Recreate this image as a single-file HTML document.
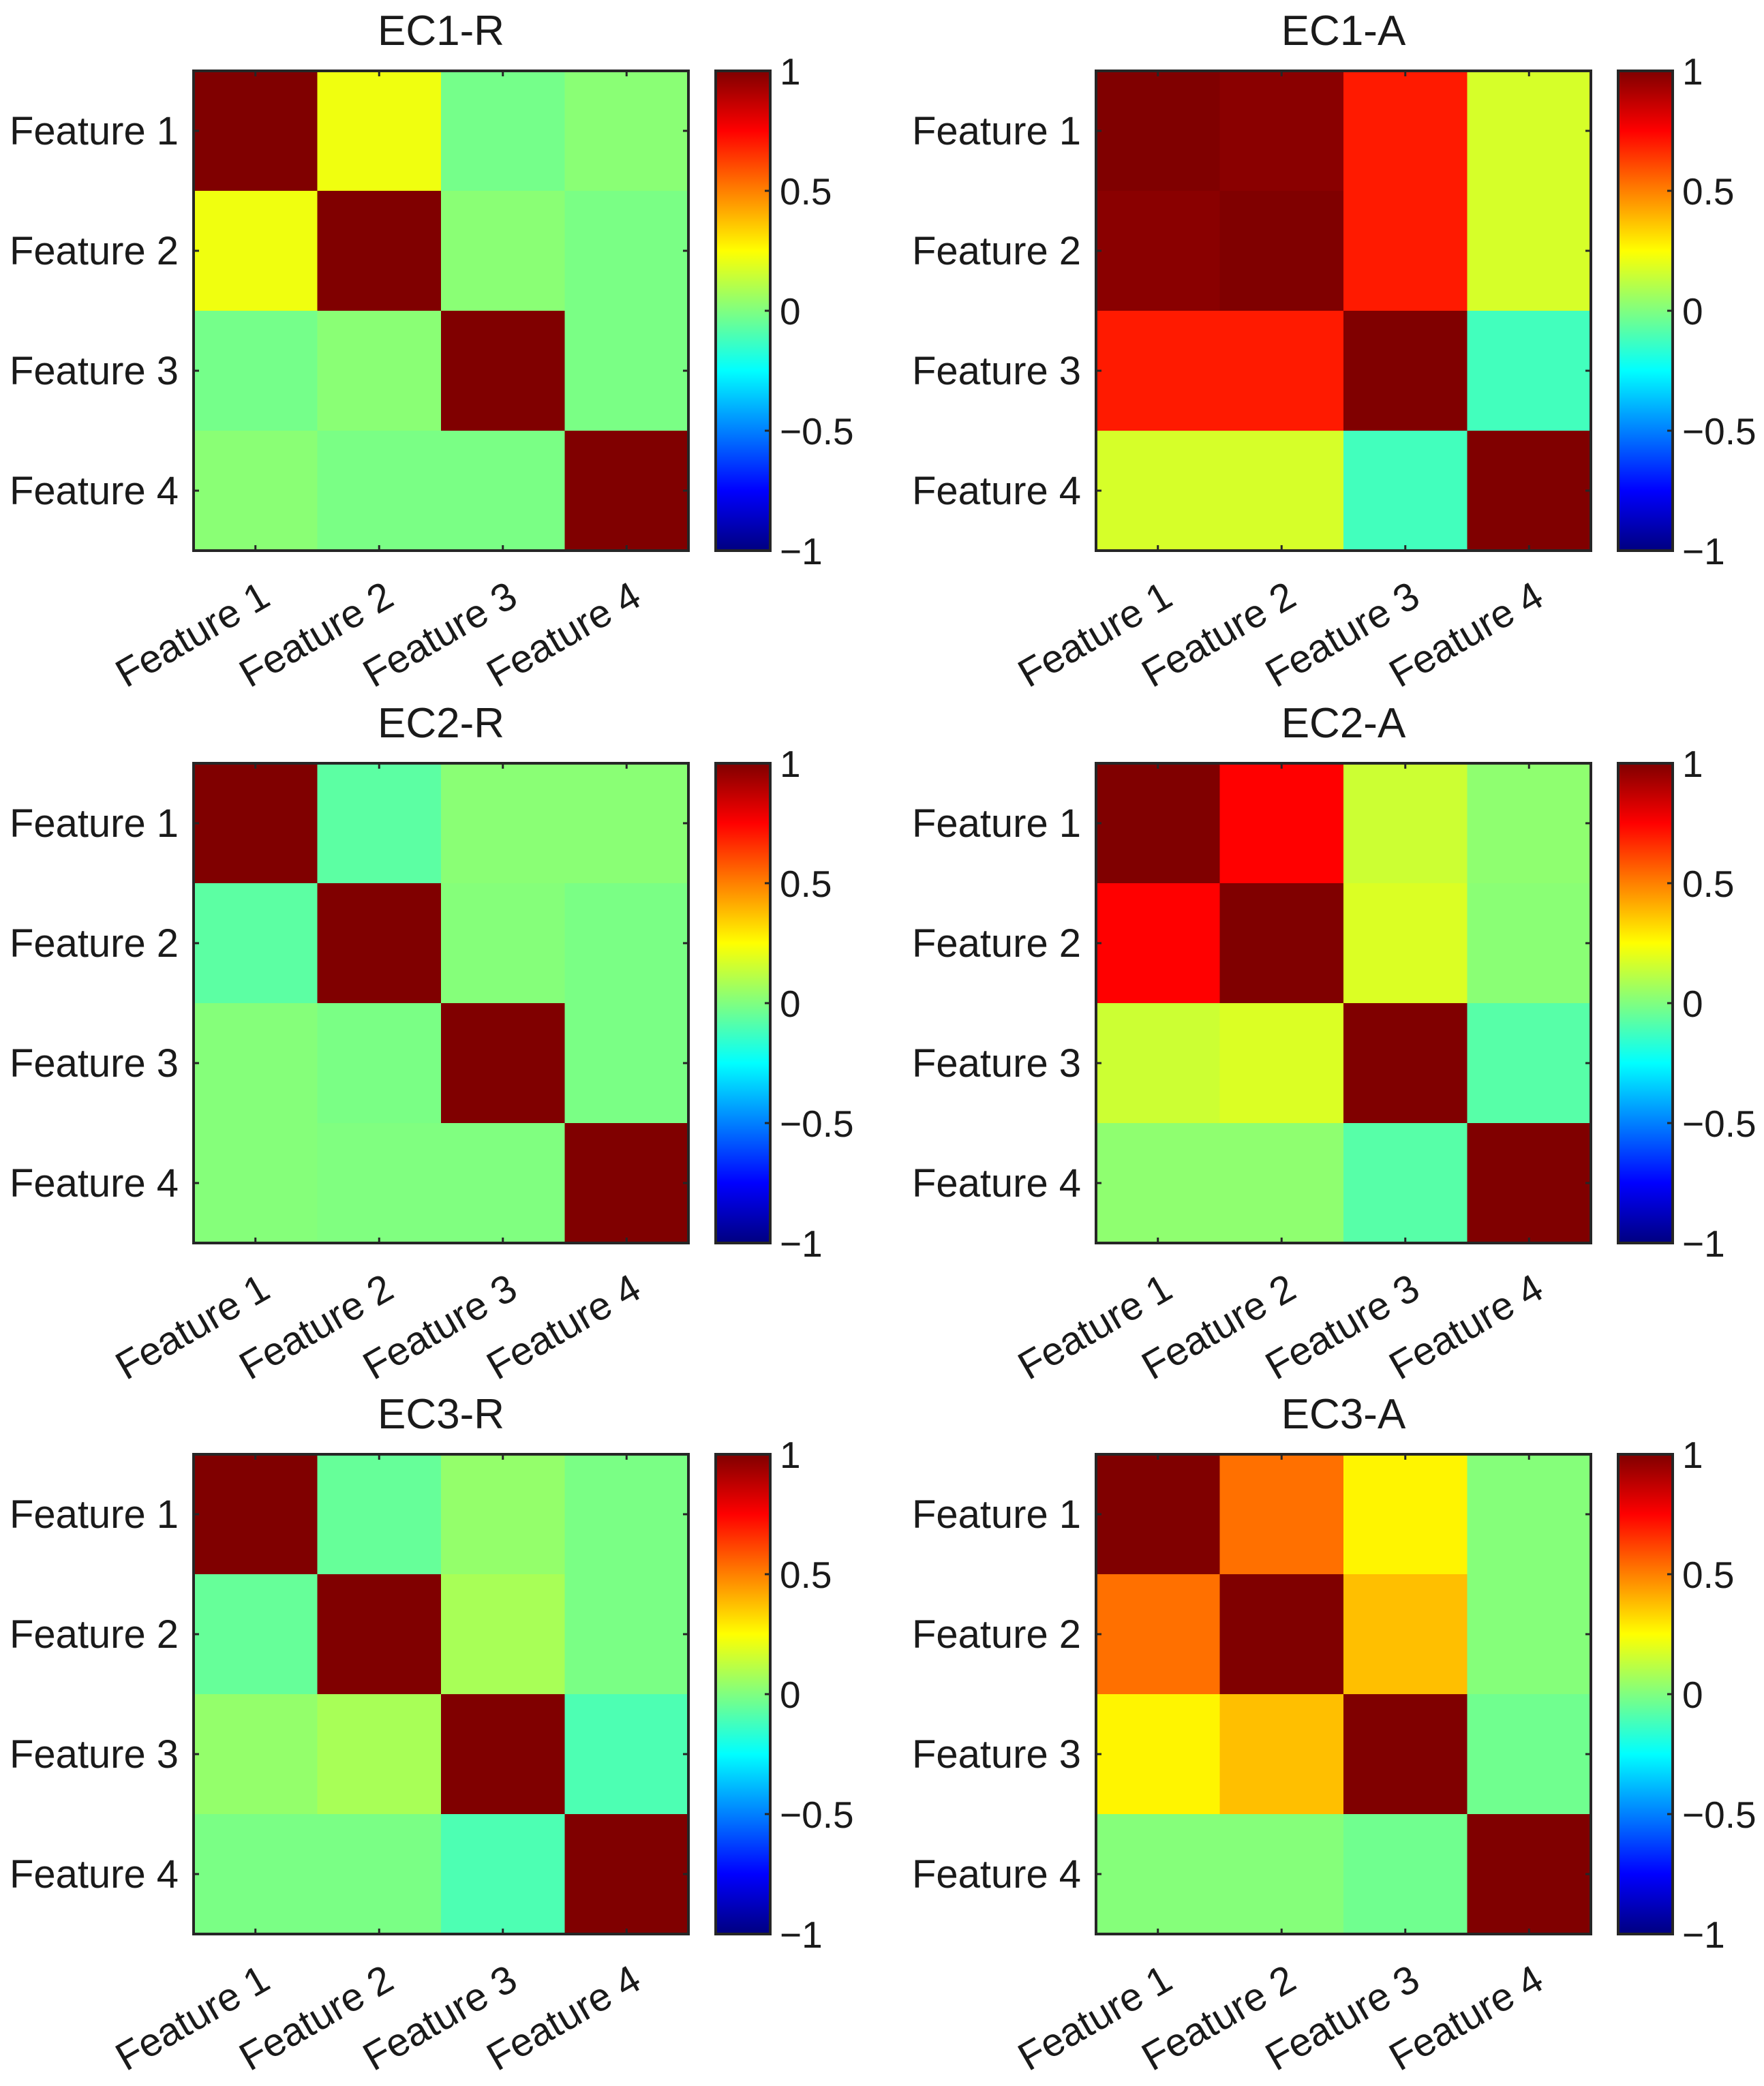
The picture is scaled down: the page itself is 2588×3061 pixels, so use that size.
<!DOCTYPE html>
<html><head><meta charset="utf-8"><style>
html,body{margin:0;padding:0;background:#fff;}
svg{display:block;}
text{font-family:"Liberation Sans",Arial,sans-serif;fill:#1a1a1a;}
</style></head><body>
<svg id="fig" width="2588" height="3061" viewBox="0 0 2588 3061" xmlns="http://www.w3.org/2000/svg">
<defs id="defs"></defs>
</svg>
<script>
const features = ["Feature 1","Feature 2","Feature 3","Feature 4"];
const titles = ["EC1-R","EC1-A","EC2-R","EC2-A","EC3-R","EC3-A"];
const ec1r = [[1,0.22,-0.02,0.02],[0.22,1,0.02,-0.01],[-0.02,0.02,1,-0.01],[0.02,-0.01,-0.01,1]];
const ec1a = [[1,0.98,0.7,0.17],[0.98,1,0.7,0.17],[0.7,0.7,1,-0.12],[0.17,0.17,-0.12,1]];
const ec2r = [[1,-0.07,0.02,0.02],[-0.07,1,0.01,-0.01],[0.01,-0.01,1,-0.01],[0.01,0.0,0.0,1]];
const ec2a = [[1,0.75,0.15,0.03],[0.75,1,0.18,0.02],[0.15,0.18,1,-0.08],[0.03,0.03,-0.08,1]];
const ec3r = [[1,-0.05,0.04,-0.01],[-0.05,1,0.08,-0.01],[0.04,0.08,1,-0.1],[-0.01,-0.01,-0.1,1]];
const ec3a = [[1,0.53,0.27,0.01],[0.53,1,0.375,0.01],[0.27,0.375,1,-0.03],[0.01,0.01,-0.03,1]];
const matrices = [ec1r,ec1a,ec2r,ec2a,ec3r,ec3a];
const cbTicks = [1,0.5,0,-0.5,-1];
const cbTickLabels = ["1","0.5","0","\u22120.5","\u22121"];

const NS="http://www.w3.org/2000/svg";
const svg=document.getElementById('fig');
const defs=document.getElementById('defs');
function mk(tag,attrs,parent){const e=document.createElementNS(NS,tag);for(const k in attrs)e.setAttribute(k,attrs[k]);(parent||svg).appendChild(e);return e;}
function cl(x){return Math.max(0,Math.min(1,x));}
function jet(v){const t=(v+1)/2;const r=cl(1.5-Math.abs(4*t-3)),g=cl(1.5-Math.abs(4*t-2)),b=cl(1.5-Math.abs(4*t-1));return `rgb(${Math.round(r*255)},${Math.round(g*255)},${Math.round(b*255)})`;}

const grad=mk('linearGradient',{id:'jetg',x1:0,y1:1,x2:0,y2:0},defs);
for(let i=0;i<=32;i++){mk('stop',{offset:(i/32).toFixed(4),'stop-color':jet(-1+2*i/32)},grad);}

const colX=[284,1608], rowY=[104,1120,2134];
const W=726, H=704, cbW=80, cbGap=40;
matrices.forEach((m,p)=>{
  const x0=colX[p%2], y0=rowY[Math.floor(p/2)];
  const g=mk('g',{});
  
  
  const n=features.length, cw=W/n, ch=H/n;
  const xs=i=>x0+i*cw, ys=j=>y0+j*ch;
  m.forEach((row,j)=>row.forEach((v,i)=>{
    const r=mk('rect',{x:xs(i),y:ys(j),width:cw+0.5,height:ch+0.5,fill:jet(v)},g);
    
    
  }));
  mk('rect',{x:x0,y:y0,width:W,height:H,fill:'none',stroke:'#262626','stroke-width':4},g);
  for(let k=0;k<n;k++){
    const cx=xs(k)+cw/2, cy=ys(k)+ch/2;
    mk('line',{x1:cx,y1:y0,x2:cx,y2:y0+8,stroke:'#262626','stroke-width':3},g);
    mk('line',{x1:cx,y1:y0+H,x2:cx,y2:y0+H-8,stroke:'#262626','stroke-width':3},g);
    mk('line',{x1:x0,y1:cy,x2:x0+8,y2:cy,stroke:'#262626','stroke-width':3},g);
    mk('line',{x1:x0+W,y1:cy,x2:x0+W-8,y2:cy,stroke:'#262626','stroke-width':3},g);
    const yl=mk('text',{x:x0-22,y:cy+20,'font-size':58,'text-anchor':'end',textLength:248,lengthAdjust:'spacingAndGlyphs'},g);
    yl.textContent=features[k];
    
    
    const ex=cx+25, ey=y0+H+78;
    const xl=mk('text',{x:ex,y:ey,'font-size':58,'text-anchor':'end',transform:`rotate(-30 ${ex} ${ey})`},g);
    xl.textContent=features[k];
    
    
  }
  const t=mk('text',{x:x0+W/2,y:y0-38,'font-size':62,'text-anchor':'middle'},g);
  t.textContent=titles[p];
  
  
  const bx=x0+W+cbGap;
  const cb=mk('g',{},g);
  
  
  mk('rect',{x:bx,y:y0,width:cbW,height:H,fill:'url(#jetg)',stroke:'#262626','stroke-width':4},cb);
  const cbY=v=>y0+(1-v)/2*H;
  cbTicks.forEach((v,k)=>{
    const yy=cbY(v);
    mk('line',{x1:bx+cbW,y1:yy,x2:bx+cbW-8,y2:yy,stroke:'#262626','stroke-width':3},cb);
    const tl=mk('text',{x:bx+cbW+14,y:yy+20,'font-size':55},cb);
    tl.textContent=cbTickLabels[k];
    
    
  });
});
</script>
</body></html>
